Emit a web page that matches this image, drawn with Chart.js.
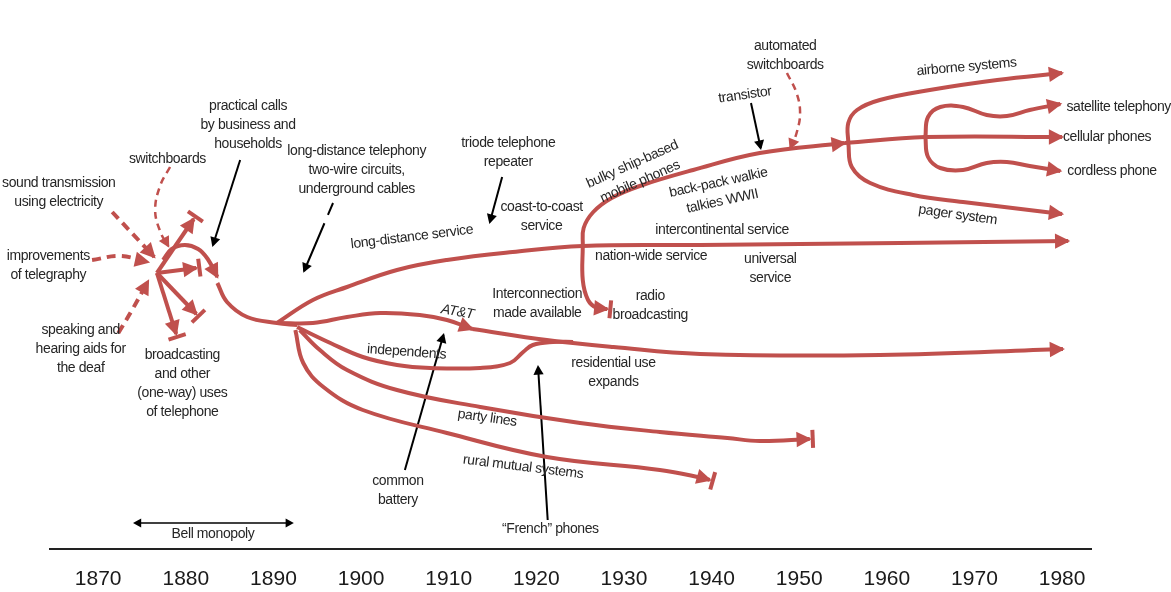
<!DOCTYPE html>
<html lang="en">
<head>
<meta charset="UTF-8">
<title>Evolution of telephone services</title>
<script src="https://cdn.jsdelivr.net/npm/chart.js"></script>
<style>
  body { margin: 0; background: #fff; }
  #wrap { width: 1171px; height: 592px; }
</style>
</head>
<body>
<div id="wrap"><canvas id="phoneChart"></canvas></div>
<script>
// x = year, y = lane level on a hidden axis (0 = top, 549 = time axis)
const tickYears = [1870, 1880, 1890, 1900, 1910, 1920, 1930, 1940, 1950, 1960, 1970, 1980];

// inputs into the telephone (dashed)
const soundX = [1871.6, 1876.4];
const soundY = [212, 257];
const switchboardsX = [1878.2, 1877.1, 1876.5, 1877.1, 1878.0];
const switchboardsY = [167, 185, 210, 232, 246];
const telegraphyX = [1869.3, 1872.5, 1875.7];
const telegraphyY = [260, 256, 262];
const speakingX = [1872.3, 1874.0, 1875.7];
const speakingY = [333, 308, 281];

// early dead ends from the hub
const deadUpX = [1876.7, 1880.9];
const deadUpY = [273, 219];
const deadMidX = [1876.7, 1881.2];
const deadMidY = [273, 268];
const deadDownX = [1876.7, 1881.2];
const deadDownY = [273, 314];
const deadLowX = [1876.7, 1878.9];
const deadLowY = [273, 334];

// practical telephony
const callsX = [1877.4, 1878.4, 1879.9, 1881.4, 1882.5, 1883.6];
const callsY = [260, 249, 245, 249, 259, 277];
const trunkX = [1883.6, 1884.7, 1887.0, 1890.4, 1892.7];
const trunkY = [283, 302, 317, 323, 325];

// long distance and mobile
const longDistX = [1890.4, 1894.5, 1898.4, 1904.1, 1909.8, 1917.3, 1925.3, 1938.7, 1961.5, 1980.7];
const longDistY = [323, 300, 287, 270, 260, 252, 246, 245, 243, 241];
const mobileX = [1925.3, 1925.4, 1926.5, 1928.6, 1931.8, 1937.9, 1945.5, 1955.2];
const mobileY = [246, 228, 212, 198, 186, 170, 153, 143];
const radioX = [1925.3, 1925.3, 1925.9, 1926.9, 1928.1];
const radioY = [246, 280, 300, 308, 309];
const airborneX = [1955.6, 1955.6, 1956.6, 1959.2, 1964.9, 1972.6, 1980.0];
const airborneY = [143, 123, 110, 100, 90, 80, 73];
const cellularX = [1955.2, 1964.4, 1980.0];
const cellularY = [143, 137, 137];
const pagerX = [1955.6, 1956.0, 1958.1, 1963.0, 1968.7, 1980.0];
const pagerY = [143, 167, 183, 195, 202, 214];
const satelliteX = [1964.4, 1964.7, 1966.1, 1968.7, 1971.4, 1973.7, 1976.3, 1979.8];
const satelliteY = [137, 117, 107, 107, 115, 116, 110, 104];
const cordlessX = [1964.4, 1964.7, 1966.1, 1968.7, 1971.4, 1973.7, 1976.3, 1979.8];
const cordlessY = [137, 157, 168, 170, 163, 162, 166, 171];

// local service
const attEarlyX = [1890.4, 1894.5, 1898.4, 1902.2, 1906.7, 1909.8, 1912.7];
const attEarlyY = [323, 323, 317, 313, 315, 320, 329];
const attLateX = [1912.7, 1921.2, 1928.8, 1938.7, 1959.2, 1980.1];
const attLateY = [329, 340, 347, 354, 355, 349];
const independentsX = [1892.7, 1896.5, 1900.2, 1904.1, 1907.9, 1913.6, 1917.0, 1918.5, 1919.6, 1921.9, 1924.2];
const independentsY = [327, 343, 357, 365, 368, 368, 363, 352, 345, 342, 342];
const partyX = [1893.0, 1895.3, 1898.4, 1904.1, 1913.6, 1925.0, 1934.1, 1941.8, 1945.5, 1951.2];
const partyY = [330, 350, 370, 390, 407, 423, 432, 438, 441, 439];
const ruralX = [1892.5, 1893.4, 1895.7, 1900.2, 1909.8, 1921.2, 1934.1, 1939.0, 1939.8];
const ruralY = [330, 363, 387, 410, 433, 457, 470, 478, 480];

// pointers
const practicalPtrX = [1886.2, 1883.1];
const practicalPtrY = [160, 245];
const wirePtrX = [1896.8, 1893.5];
const wirePtrY = [203, 271];
const triodePtrX = [1916.1, 1914.7];
const triodePtrY = [177, 222];
const transistorPtrX = [1944.5, 1945.6];
const transistorPtrY = [103, 148];
const automatedX = [1948.6, 1949.7, 1950.1, 1949.7, 1949.0];
const automatedY = [73, 93, 113, 133, 148];
const batteryPtrX = [1905.0, 1909.4];
const batteryPtrY = [470, 335];
const frenchPtrX = [1921.3, 1920.2];
const frenchPtrY = [520, 367];
const bellX = [1874.2, 1892.1];
const bellY = [523, 523];

const RED = '#c0504d';
const INK = '#262626';
const looks = {
  branch:   { color: RED, width: 4, dash: [] },
  dashed:   { color: RED, width: 4, dash: [9, 6] },
  thinDash: { color: RED, width: 2.5, dash: [7, 5] },
  pointer:  { color: '#000', width: 2, dash: [] },
  wire:     { color: '#000', width: 2, dash: [13, 9, 90, 0] },
  span:     { color: '#000', width: 1.5, dash: [] }
};

function branch(xs, ys, look, end, start) {
  const s = looks[look];
  return {
    data: xs.map((x, i) => ({ x: x, y: ys[i] })),
    borderColor: s.color,
    backgroundColor: s.color,
    borderWidth: s.width,
    borderDash: s.dash,
    tension: xs.length > 2 ? 0.4 : 0,
    pointRadius: 0,
    fill: false,
    clip: false,
    end: end,
    start: start
  };
}

const datasets = [
  branch(soundX, soundY, 'dashed', 'arrow'),
  branch(switchboardsX, switchboardsY, 'thinDash', 'arrow'),
  branch(telegraphyX, telegraphyY, 'dashed', 'arrow'),
  branch(speakingX, speakingY, 'dashed', 'arrow'),
  branch(deadUpX, deadUpY, 'branch', 'arrowbar'),
  branch(deadMidX, deadMidY, 'branch', 'arrowbar'),
  branch(deadDownX, deadDownY, 'branch', 'arrowbar'),
  branch(deadLowX, deadLowY, 'branch', 'arrowbar'),
  branch(callsX, callsY, 'branch', 'arrow'),
  branch(trunkX, trunkY, 'branch'),
  branch(longDistX, longDistY, 'branch', 'arrow'),
  branch(mobileX, mobileY, 'branch', 'arrow'),
  branch(radioX, radioY, 'branch', 'arrowbar'),
  branch(airborneX, airborneY, 'branch', 'arrow'),
  branch(cellularX, cellularY, 'branch', 'arrow'),
  branch(pagerX, pagerY, 'branch', 'arrow'),
  branch(satelliteX, satelliteY, 'branch', 'arrow'),
  branch(cordlessX, cordlessY, 'branch', 'arrow'),
  branch(attEarlyX, attEarlyY, 'branch', 'arrow'),
  branch(attLateX, attLateY, 'branch', 'arrow'),
  branch(independentsX, independentsY, 'branch'),
  branch(partyX, partyY, 'branch', 'arrowbar'),
  branch(ruralX, ruralY, 'branch', 'arrowbar'),
  branch(practicalPtrX, practicalPtrY, 'pointer', 'arrow'),
  branch(wirePtrX, wirePtrY, 'wire', 'arrow'),
  branch(triodePtrX, triodePtrY, 'pointer', 'arrow'),
  branch(transistorPtrX, transistorPtrY, 'pointer', 'arrow'),
  branch(automatedX, automatedY, 'thinDash', 'arrow'),
  branch(batteryPtrX, batteryPtrY, 'pointer', 'arrow'),
  branch(frenchPtrX, frenchPtrY, 'pointer', 'arrow'),
  branch(bellX, bellY, 'span', 'arrow', 'arrow')
];

// text notes, placed in the same year / level units
const notes = [
  { lines: ['sound transmission', 'using electricity'], x: 1865.5, y: 193 },
  { lines: ['switchboards'], x: 1877.9, y: 159 },
  { lines: ['improvements', 'of telegraphy'], x: 1864.3, y: 266 },
  { lines: ['speaking and', 'hearing aids for', 'the deaf'], x: 1868.0, y: 349 },
  { lines: ['broadcasting', 'and other', '(one-way) uses', 'of telephone'], x: 1879.6, y: 383.5 },
  { lines: ['practical calls', 'by business and', 'households'], x: 1887.1, y: 125.5 },
  { lines: ['long-distance telephony', 'two-wire circuits,', 'underground cables'], x: 1899.5, y: 170.5 },
  { lines: ['triode telephone', 'repeater'], x: 1916.8, y: 152.5 },
  { lines: ['coast-to-coast', 'service'], x: 1920.6, y: 216.5 },
  { lines: ['long-distance service'], x: 1905.8, y: 237, rot: -7 },
  { lines: ['Interconnection', 'made available'], x: 1920.1, y: 304 },
  { lines: ['AT&T'], x: 1911.0, y: 312, rot: 10, italic: true },
  { lines: ['bulky ship-based', 'mobile phones'], x: 1931.4, y: 173, rot: -24 },
  { lines: ['back-pack walkie', 'talkies WWII'], x: 1941.0, y: 192, rot: -12 },
  { lines: ['transistor'], x: 1943.8, y: 95, rot: -8 },
  { lines: ['automated', 'switchboards'], x: 1948.4, y: 56 },
  { lines: ['intercontinental service'], x: 1941.2, y: 230 },
  { lines: ['nation-wide service'], x: 1933.1, y: 256 },
  { lines: ['universal', 'service'], x: 1946.7, y: 269 },
  { lines: ['radio', 'broadcasting'], x: 1933.0, y: 306 },
  { lines: ['independents'], x: 1905.2, y: 352, rot: 4 },
  { lines: ['residential use', 'expands'], x: 1928.8, y: 372.5 },
  { lines: ['party lines'], x: 1914.4, y: 418, rot: 8 },
  { lines: ['rural mutual systems'], x: 1918.5, y: 467, rot: 7 },
  { lines: ['common', 'battery'], x: 1904.2, y: 491 },
  { lines: ['\u201cFrench\u201d phones'], x: 1921.6, y: 529 },
  { lines: ['airborne systems'], x: 1969.1, y: 67, rot: -5 },
  { lines: ['satellite telephony'], x: 1980.5, y: 107, align: 'left' },
  { lines: ['cellular phones'], x: 1980.1, y: 137, align: 'left' },
  { lines: ['cordless phone'], x: 1980.6, y: 171, align: 'left' },
  { lines: ['pager system'], x: 1968.1, y: 215, rot: 8 },
  { lines: ['Bell monopoly'], x: 1883.1, y: 534 }
];

function head(ctx, px, py, ux, uy, len, half) {
  const tx = px + ux * 2, ty = py + uy * 2;
  ctx.beginPath();
  ctx.moveTo(tx, ty);
  ctx.lineTo(tx - ux * len - uy * half, ty - uy * len + ux * half);
  ctx.lineTo(tx - ux * len + uy * half, ty - uy * len - ux * half);
  ctx.closePath();
  ctx.fill();
}

function bar(ctx, px, py, ux, uy, half, w) {
  const tx = px + ux * 3, ty = py + uy * 3;
  ctx.lineWidth = w;
  ctx.beginPath();
  ctx.moveTo(tx - uy * half, ty + ux * half);
  ctx.lineTo(tx + uy * half, ty - ux * half);
  ctx.stroke();
}

function decorate(ctx, ds, p, q, kind) {
  let ux = p.x - q.x, uy = p.y - q.y;
  const d = Math.hypot(ux, uy) || 1;
  ux /= d; uy /= d;
  const w = ds.borderWidth;
  const len = 4 + w * 2.8, half = 2.5 + w * 1.3;
  ctx.fillStyle = ds.borderColor;
  ctx.strokeStyle = ds.borderColor;
  ctx.setLineDash([]);
  head(ctx, p.x, p.y, ux, uy, len, half);
  if (kind === 'arrowbar') bar(ctx, p.x, p.y, ux, uy, 9, w);
}

const arrowEnds = {
  id: 'arrowEnds',
  afterDatasetsDraw(chart) {
    const ctx = chart.ctx;
    ctx.save();
    chart.data.datasets.forEach((ds, i) => {
      const pts = chart.getDatasetMeta(i).data;
      const n = pts.length;
      if (ds.end) {
        const p = pts[n - 1];
        let q = pts[n - 2];
        if (p.cp1x !== undefined && Math.hypot(p.x - p.cp1x, p.y - p.cp1y) > 1) q = { x: p.cp1x, y: p.cp1y };
        decorate(ctx, ds, p, q, ds.end);
      }
      if (ds.start) {
        const p = pts[0];
        let q = pts[1];
        if (p.cp2x !== undefined && Math.hypot(p.x - p.cp2x, p.y - p.cp2y) > 1) q = { x: p.cp2x, y: p.cp2y };
        decorate(ctx, ds, p, q, ds.start);
      }
    });
    ctx.restore();
  }
};

const noteLabels = {
  id: 'noteLabels',
  afterDraw(chart) {
    const ctx = chart.ctx;
    const xs = chart.scales.x, ys = chart.scales.y;
    const lh = 19;
    ctx.save();
    ctx.fillStyle = INK;
    ctx.textBaseline = 'middle';
    ctx.letterSpacing = '-0.4px';
    notes.forEach(n => {
      ctx.save();
      ctx.translate(xs.getPixelForValue(n.x), ys.getPixelForValue(n.y));
      ctx.rotate((n.rot || 0) * Math.PI / 180);
      ctx.font = (n.italic ? 'italic ' : '') + '14px "Liberation Sans", Arial, sans-serif';
      ctx.textAlign = n.align || 'center';
      const top = -(n.lines.length - 1) * lh / 2;
      n.lines.forEach((t, k) => ctx.fillText(t, 0, top + k * lh));
      ctx.restore();
    });
    ctx.restore();
  }
};

new Chart(document.getElementById('phoneChart'), {
  type: 'line',
  data: { datasets: datasets },
  options: {
    responsive: true,
    maintainAspectRatio: false,
    animation: false,
    events: [],
    layout: { padding: { left: 50, right: 80, top: 0, bottom: 0 } },
    plugins: { legend: { display: false }, tooltip: { enabled: false } },
    scales: {
      x: {
        type: 'linear',
        min: 1864.5,
        max: 1983.3,
        afterBuildTicks: scale => { scale.ticks = tickYears.map(v => ({ value: v })); },
        afterFit: scale => { scale.height = 43; },
        ticks: {
          callback: v => String(v),
          color: '#1a1a1a',
          padding: 18,
          maxRotation: 0,
          autoSkip: false,
          font: { family: '"Liberation Sans", Arial, sans-serif', size: 21 }
        },
        grid: { display: false, drawTicks: false },
        border: { display: true, color: '#222', width: 2 }
      },
      y: { display: false, reverse: true, min: 0, max: 549 }
    }
  },
  plugins: [arrowEnds, noteLabels]
});
</script>
</body>
</html>
